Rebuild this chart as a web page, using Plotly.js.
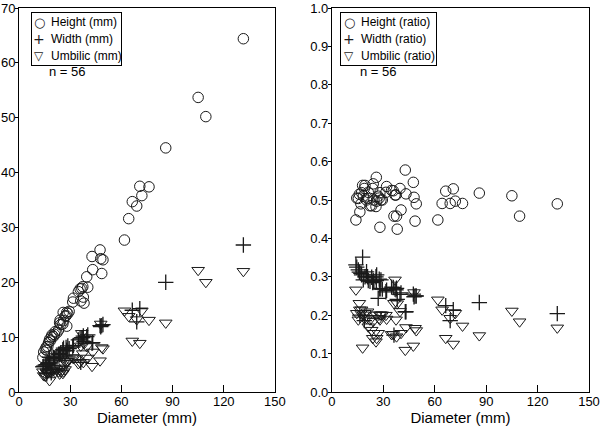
<!DOCTYPE html>
<html><head><meta charset="utf-8">
<script src="https://cdn.plot.ly/plotly-3.0.1.min.js"></script>
<style>html,body{margin:0;padding:0;background:#fff}#chart{width:600px;height:433px}</style>
</head><body><div id="chart"></div>
<script>
const diameter = [14.0,14.5,15.4,16.0,16.3,16.9,17.3,17.9,18.3,18.9,19.3,20.2,20.8,21.2,22.2,23.2,23.8,24.1,24.5,25.7,25.9,26.1,27.0,27.6,28.0,28.0,28.6,29.4,31.5,31.9,34.8,35.8,36.2,36.8,37.4,37.7,38.1,39.7,40.3,42.8,43.2,47.5,47.9,48.5,49.2,61.8,64.3,66.4,69.0,70.8,72.0,76.2,86.0,105.0,109.5,131.5];
const heightMm = [6.3,7.3,7.8,8.2,7.6,8.3,9.0,9.6,9.3,10.0,10.4,10.1,10.5,11.0,10.8,11.3,12.6,13.1,12.3,12.4,14.5,13.0,13.8,13.9,14.5,12.0,14.3,14.7,16.4,17.1,18.3,18.8,16.6,18.9,19.2,17.3,16.2,21.0,19.1,24.7,22.3,25.9,24.3,21.6,24.1,27.7,31.6,34.7,33.9,37.5,35.8,37.4,44.5,53.7,50.2,64.4];
const widthMm = [4.6,4.7,4.9,5.0,3.3,5.2,5.3,6.3,5.3,3.5,5.8,6.3,6.2,6.1,6.4,6.9,6.8,7.0,7.1,7.7,7.5,8.0,6.6,8.1,7.6,7.5,8.4,7.9,8.2,8.5,9.5,9.7,5.4,9.9,9.9,10.2,9.2,10.1,10.4,8.9,9.0,12.1,11.9,12.1,12.3,null,null,14.9,12.8,15.2,null,null,20.0,null,null,26.8];
const umbilicMm = [3.7,3.0,2.9,3.7,3.5,3.5,3.7,2.1,3.7,3.6,4.0,3.9,4.3,3.6,4.2,3.7,3.3,4.4,3.7,3.4,5.2,3.7,4.1,5.3,5.3,5.6,5.7,5.9,6.3,6.1,5.2,5.4,8.4,10.7,7.0,5.4,8.8,8.3,6.2,4.7,7.3,5.7,12.4,8.1,7.9,14.8,13.8,9.3,13.2,8.9,14.8,13.1,12.6,22.2,20.0,22.0];
const heightRatio = [0.448,0.505,0.504,0.515,0.469,0.490,0.519,0.538,0.510,0.530,0.538,0.500,0.504,0.520,0.485,0.485,0.530,0.542,0.500,0.483,0.559,0.497,0.510,0.505,0.519,0.429,0.500,0.500,0.520,0.535,0.525,0.524,0.458,0.513,0.513,0.458,0.424,0.530,0.474,0.578,0.516,0.546,0.507,0.445,0.490,0.448,0.491,0.523,0.491,0.529,0.497,0.491,0.518,0.511,0.458,0.490];
const widthRatio = [0.331,0.325,0.318,0.312,0.200,0.309,0.305,0.351,0.292,0.186,0.300,0.313,0.300,0.290,0.288,0.299,0.285,0.290,0.288,0.300,0.290,0.305,0.244,0.294,0.270,0.268,0.292,0.268,0.261,0.265,0.273,0.272,0.148,0.268,0.266,0.270,0.241,0.254,0.258,0.209,0.209,0.255,0.248,0.250,0.250,null,null,0.225,0.186,0.214,null,null,0.233,null,null,0.204];
const umbilicRatio = [0.266,0.205,0.188,0.231,0.214,0.205,0.214,0.115,0.201,0.192,0.205,0.192,0.209,0.170,0.188,0.161,0.140,0.184,0.153,0.131,0.201,0.140,0.153,0.192,0.188,0.201,0.201,0.201,0.200,0.190,0.150,0.150,0.231,0.292,0.188,0.144,0.230,0.210,0.153,0.109,0.168,0.120,0.259,0.166,0.160,0.240,0.214,0.140,0.192,0.125,0.205,0.172,0.147,0.211,0.183,0.167];
const namesLeft = ["Height (mm)","Width (mm)","Umbilic (mm)"];
const namesRight = ["Height (ratio)","Width (ratio)","Umbilic (ratio)"];
const legendGlyphs = ["\u25CB","+","\u25BD"];
const sampleLabel = "n = 56";
const xTitle = "Diameter (mm)";

const FONT = "Liberation Sans, Arial, Helvetica, sans-serif";
const INK = "#1a1a1a";
const mk = {
  circle: {symbol:"circle-open", size:10.5, color:INK, line:{width:1, color:INK}},
  cross: {symbol:"cross-thin-open", size:11, color:INK, line:{width:1.3, color:INK}},
  tri: {symbol:"triangle-down-open", size:11, color:INK, line:{width:1, color:INK}}
};
function tr(x, y, name, marker, xa, ya){
  return {type:"scatter", mode:"markers", x:x, y:y, name:name, marker:marker, xaxis:xa, yaxis:ya, showlegend:false, cliponaxis:false};
}
// empty traces that only give the two legend-frame subplots their axes
function frameTrace(xa, ya){
  return {type:"scatter", mode:"markers", x:[], y:[], xaxis:xa, yaxis:ya, showlegend:false, hoverinfo:"skip"};
}
const data = [
  frameTrace("x3", "y3"),
  frameTrace("x4", "y4"),
  tr(diameter, heightMm, namesLeft[0], mk.circle, "x", "y"),
  tr(diameter, widthMm, namesLeft[1], mk.cross, "x", "y"),
  tr(diameter, umbilicMm, namesLeft[2], mk.tri, "x", "y"),
  tr(diameter, heightRatio, namesRight[0], mk.circle, "x2", "y2"),
  tr(diameter, widthRatio, namesRight[1], mk.cross, "x2", "y2"),
  tr(diameter, umbilicRatio, namesRight[2], mk.tri, "x2", "y2")
];
const tickFont = {family:FONT, size:13, color:"#000"};
const axBase = {showline:true, mirror:true, linecolor:"#000", linewidth:1, tickcolor:"#000", showgrid:false, zeroline:false, tickfont:tickFont};
const xAx = (dom, anchor) => Object.assign({}, axBase, {domain:dom, anchor:anchor, range:[0,150], dtick:30, tick0:0, ticks:"inside", ticklen:7, ticklabelstandoff:-3,
  title:{text:xTitle, font:{family:FONT, size:15, color:"#000"}, standoff:2}});
const yAx = (range, dtick, anchor, fmt) => Object.assign({}, axBase, {range:range, dtick:dtick, tick0:0, anchor:anchor, ticks:"outside", ticklen:3, ticklabelstandoff:-3, tickformat:fmt});

// pixel geometry of the plot area -> paper fractions
const PL = 19, PW = 570, PB = 392, PH = 384;
const px = v => (v - PL) / PW;
const py = v => (PB - v) / PH;
const rowsY = [22, 39, 56];
const glyphSize = [13, 14, 12];
const frameAx = (dom, anchor) => ({domain:dom, anchor:anchor, range:[0,1], fixedrange:true, showline:true, mirror:true, linecolor:"#000", linewidth:1,
  showticklabels:false, ticks:"", showgrid:false, zeroline:false});
function legendRows(symX, textX, names){
  const ann = [];
  names.forEach((n, i) => {
    ann.push({text:legendGlyphs[i], xref:"paper", yref:"paper", x:px(symX), y:py(rowsY[i]), xanchor:"center", yanchor:"middle", showarrow:false,
      font:{family:"DejaVu Sans, sans-serif", size:glyphSize[i], color:INK}});
    ann.push({text:n, xref:"paper", yref:"paper", x:px(textX), y:py(rowsY[i]), xanchor:"left", yanchor:"middle", showarrow:false,
      font:{family:FONT, size:12, color:"#000"}});
  });
  return ann;
}

const layout = {
  width:600, height:433,
  margin:{l:PL, r:11, t:8, b:41},
  paper_bgcolor:"#fff", plot_bgcolor:"rgba(0,0,0,0)",
  font:{family:FONT, color:"#000"},
  xaxis: xAx([0, 0.449], "y"),
  xaxis2: xAx([0.549, 1], "y2"),
  yaxis: yAx([0,70], 10, "x", ""),
  yaxis2: yAx([0,1], 0.1, "x2", ".1f"),
  xaxis3: frameAx([px(32), px(121)], "y3"),
  yaxis3: frameAx([py(65), py(13)], "x3"),
  xaxis4: frameAx([px(341), px(436)], "y4"),
  yaxis4: frameAx([py(65), py(13)], "x4"),
  showlegend:false,
  annotations: legendRows(39, 49, namesLeft).concat(legendRows(349, 359, namesRight)).concat([
    {text:sampleLabel, xref:"paper", yref:"paper", x:px(47), y:py(72), xanchor:"left", yanchor:"middle", showarrow:false, font:{family:FONT, size:13, color:"#000"}},
    {text:sampleLabel, xref:"paper", yref:"paper", x:px(358), y:py(72), xanchor:"left", yanchor:"middle", showarrow:false, font:{family:FONT, size:13, color:"#000"}}
  ])
};
Plotly.newPlot("chart", data, layout, {displayModeBar:false, staticPlot:true});
</script></body></html>
